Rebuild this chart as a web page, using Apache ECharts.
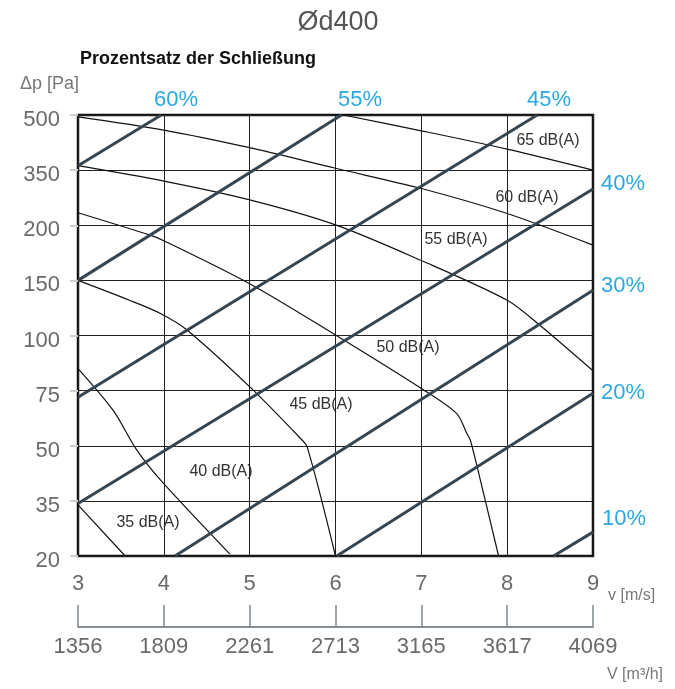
<!DOCTYPE html>
<html><head><meta charset="utf-8">
<script src="https://cdn.jsdelivr.net/npm/echarts/dist/echarts.min.js"></script>
<style>html,body{margin:0;padding:0;background:#fff}#c{width:675px;height:689px}</style>
</head><body><div id="c"></div>
<script>
// ---- axis ticks ----
const speedTicks = [3, 4, 5, 6, 7, 8, 9];                       // v [m/s]
const volumeTicks = ['1356','1809','2261','2713','3165','3617','4069']; // V [m3/h]
const pressureTicks = [20, 35, 50, 75, 100, 150, 200, 350, 500]; // Δp [Pa]

// ---- damper closure lines: [v (m/s), Δp (Pa)] ----
const close60 = [[3.0, 362], [3.97, 500]];
const close55 = [[3.0, 150], [6.07, 500]];
const close45 = [[3.0, 72], [8.35, 500]];
const close40 = [[3.0, 34.3], [9.0, 298.7]];
const close30 = [[4.13, 20], [9.0, 141]];
const close20 = [[6.015, 20], [9.0, 73.8]];
const close10 = [[8.54, 20], [9.0, 26.5]];

// ---- sound level curves: [v (m/s), Δp (Pa)] ----
const db65 = [[6.09, 500], [7.0, 457], [8.0, 407], [9.0, 350]];
const db60 = [[3.0, 495], [4.0, 459], [5.0, 411], [6.0, 355], [7.0, 300], [8.0, 232], [9.0, 182]];
const db55 = [[3.0, 362], [4.0, 320], [5.0, 269], [6.0, 201], [7.0, 168], [8.0, 132], [8.37, 110], [9.0, 84]];
const db50 = [[3.0, 234], [3.84, 191], [4.0, 186], [5.0, 147], [6.0, 100.5], [7.0, 76], [7.41, 64.7], [7.53, 55.6], [7.57, 52.6], [7.65, 44.3], [7.9, 20]];
const db45 = [[3.0, 150], [3.6, 132], [3.96, 120], [4.27, 105], [5.02, 76], [5.59, 53.4], [5.67, 49.7], [6.0, 20]];
const db40 = [[3.0, 85], [3.41, 66], [3.68, 49], [3.96, 40.7], [4.77, 20.5]];
const db35 = [[3.0, 33.9], [3.55, 20]];

// Δp axis is drawn with evenly spaced ticks; map Pa to tick position
function toIdx(p) {
  for (let i = 0; i < pressureTicks.length - 1; i++) {
    const a = pressureTicks[i], b = pressureTicks[i + 1];
    if (p <= b || i === pressureTicks.length - 2) return i + (p - a) / (b - a);
  }
}
const conv = arr => arr.map(([v, p]) => [v, toIdx(p)]);

const thick = { color: '#36454f', width: 3 };
const thin = { color: '#111', width: 1.2 };
function thickSeries(d) {
  return { type: 'line', data: conv(d), symbol: 'none', lineStyle: thick, z: 4, clip: true, silent: true };
}
function thinSeries(d) {
  return { type: 'line', data: conv(d), symbol: 'none', smooth: 0.3, lineStyle: thin, z: 3, clip: true, silent: true };
}

const labelColor = '#6a6a6a';
const cyan = '#2aa8df';
const font = 'Liberation Sans, Arial, Helvetica, sans-serif';

function txt(text, x, y, size, fill, align, weight) {
  return { type: 'text', style: { text, x, y, fill, align: align || 'center', verticalAlign: 'middle',
    font: (weight || 'normal') + ' ' + size + 'px ' + font } };
}

const chart = echarts.init(document.getElementById('c'), null, { renderer: 'canvas' });
chart.setOption({
  animation: false,
  backgroundColor: '#fff',
  grid: { left: 78, right: 82, top: 115, bottom: 133, show: true, borderColor: '#111', borderWidth: 2.5, backgroundColor: 'transparent' },
  xAxis: [{
    type: 'value', min: 3, max: 9, interval: 1, position: 'bottom',
    axisLine: { show: false }, axisTick: { show: false },
    splitLine: { show: true, lineStyle: { color: '#222', width: 1 } },
    axisLabel: { margin: 17, fontSize: 22, color: labelColor, fontFamily: font,
      formatter: v => String(speedTicks[Math.round(v - 3)]) }
  }, {
    type: 'value', min: 3, max: 9, interval: 1, position: 'bottom', offset: 71,
    axisLine: { show: true, lineStyle: { color: '#5d6870', width: 1.5 } },
    axisTick: { show: true, inside: true, length: 22, lineStyle: { color: '#7d878e', width: 1.5 } },
    splitLine: { show: false },
    axisLabel: { margin: 9, fontSize: 22, color: labelColor, fontFamily: font,
      formatter: v => volumeTicks[Math.round(v - 3)] }
  }],
  yAxis: {
    type: 'value', min: 0, max: 8, interval: 1,
    axisLine: { show: false },
    axisTick: { show: true, length: 8, lineStyle: { color: '#cfcfcf', width: 2 } },
    splitLine: { show: true, lineStyle: { color: '#222', width: 1 } },
    axisLabel: { margin: 18, fontSize: 22, color: labelColor, fontFamily: font,
      verticalAlign: 'top', lineHeight: 10,
      formatter: v => String(pressureTicks[Math.round(v)]) }
  },
  series: [
    thickSeries(close60), thickSeries(close55), thickSeries(close45), thickSeries(close40),
    thickSeries(close30), thickSeries(close20), thickSeries(close10),
    thinSeries(db65), thinSeries(db60), thinSeries(db55), thinSeries(db50),
    thinSeries(db45), thinSeries(db40), thinSeries(db35)
  ],
  graphic: [
    txt('Ød400', 338, 23, 27, '#555'),
    txt('Prozentsatz der Schließung', 80, 59, 18, '#111', 'left', 'bold'),
    txt('Δp [Pa]', 20, 84, 18, '#777', 'left'),
    txt('60%', 176, 100, 22, cyan), txt('55%', 360, 100, 22, cyan), txt('45%', 549, 100, 22, cyan),
    txt('40%', 601, 184, 22, cyan, 'left'), txt('30%', 601, 286, 22, cyan, 'left'),
    txt('20%', 601, 393, 22, cyan, 'left'), txt('10%', 602, 519, 22, cyan, 'left'),
    txt('65 dB(A)', 548, 141, 16, '#333'), txt('60 dB(A)', 527, 198, 16, '#333'),
    txt('55 dB(A)', 456, 240, 16, '#333'), txt('50 dB(A)', 408, 348, 16, '#333'),
    txt('45 dB(A)', 321, 405, 16, '#333'), txt('40 dB(A)', 221, 472, 16, '#333'),
    txt('35 dB(A)', 148, 523, 16, '#333'),
    txt('v [m/s]', 608, 596, 16, '#777', 'left'),
    txt('V [m³/h]', 607, 675, 16, '#777', 'left')
  ]
});
</script></body></html>
